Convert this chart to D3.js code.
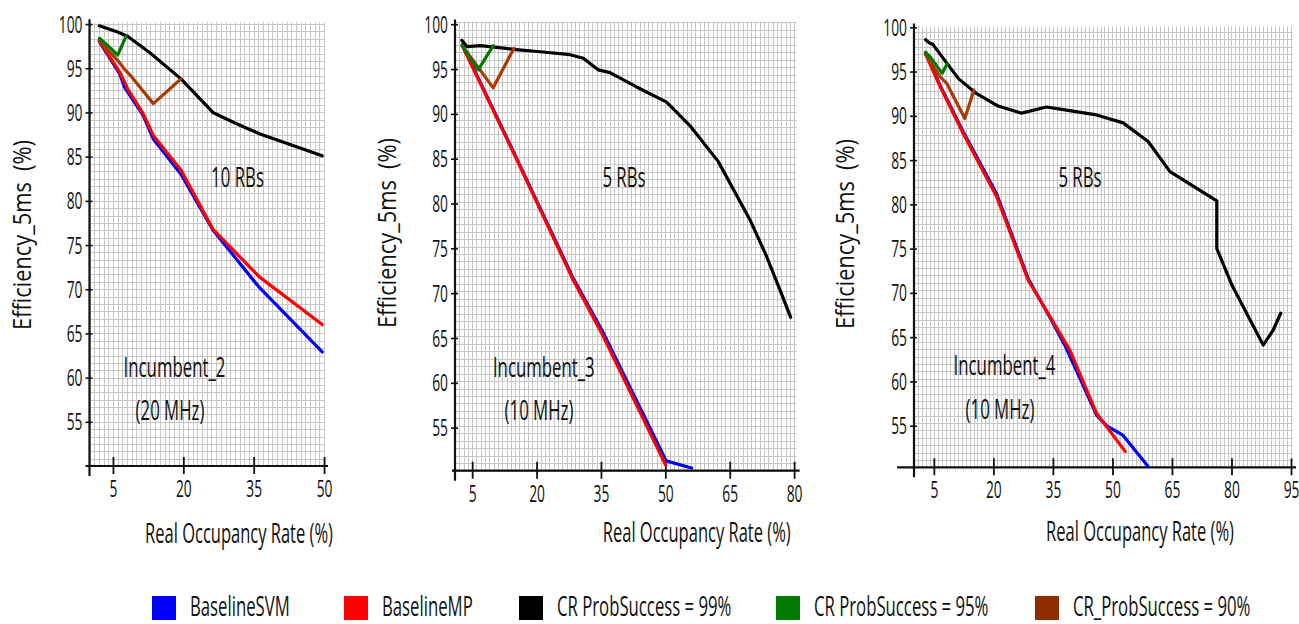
<!DOCTYPE html>
<html>
<head>
<meta charset="utf-8">
<script src="https://cdn.jsdelivr.net/npm/d3@7"></script>
<style>
  html, body { margin: 0; padding: 0; background: #fff; }
  svg { display: block; font-family: "Open Sans", sans-serif; }
</style>
</head>
<body>
<svg id="chart" width="1299" height="624"></svg>
<script>
// ---- Tick values ----
const xTicksInc2 = [5, 20, 35, 50];
const xTicksInc3 = [5, 20, 35, 50, 65, 80];
const xTicksInc4 = [5, 20, 35, 50, 65, 80, 95];
const yTicks = [55, 60, 65, 70, 75, 80, 85, 90, 95, 100];

// ---- Incumbent_2 (20 MHz), 10 RBs : [real occupancy %, efficiency %] ----
const inc2SVM  = [[2.1, 98.0], [6.4, 94.4], [7.5, 92.8], [11.4, 89.7], [13.6, 87.0], [19.5, 83.0], [26.3, 76.7], [36.2, 70.2], [49.6, 62.9]];
const inc2MP   = [[2.1, 98.1], [6.4, 94.6], [8.2, 92.6], [11.4, 89.9], [13.6, 87.4], [19.5, 83.5], [26.3, 76.8], [36.2, 71.4], [49.6, 66.0]];
const inc2CR99 = [[2.1, 99.8], [6.0, 99.1], [8.2, 98.6], [13.0, 96.7], [19.5, 93.8], [26.3, 90.0], [31.0, 88.8], [36.2, 87.6], [49.6, 85.1]];
const inc2CR95 = [[2.1, 98.4], [3.4, 97.8], [6.0, 96.5], [7.8, 98.6]];
const inc2CR90 = [[2.1, 98.1], [6.0, 95.9], [7.8, 94.7], [8.7, 94.2], [13.6, 91.0], [19.5, 93.8]];

// ---- Incumbent_3 (10 MHz), 5 RBs ----
const inc3SVM  = [[2.7, 97.7], [15.0, 85.4], [28.6, 71.6], [35.3, 65.8], [50.2, 51.3], [56.1, 50.5]];
const inc3MP   = [[2.7, 97.6], [15.0, 85.3], [28.5, 71.5], [35.1, 65.6], [50.1, 50.8]];
const inc3CR99 = [[2.6, 98.2], [3.8, 97.5], [7.0, 97.6], [14.6, 97.2], [21.5, 96.9], [27.8, 96.6], [30.9, 96.2], [34.4, 94.9], [37.1, 94.6], [43.3, 93.0], [50.3, 91.3], [55.7, 88.7], [62.3, 84.7], [69.7, 78.2], [73.5, 74.2], [77.0, 70.0], [79.2, 67.3]];
const inc3CR95 = [[2.7, 97.6], [6.4, 94.9], [9.9, 97.6]];
const inc3CR90 = [[2.7, 97.6], [9.9, 92.9], [14.7, 97.3]];

// ---- Incumbent_4 (10 MHz), 5 RBs ----
const inc4SVM  = [[2.9, 97.1], [6.6, 93.4], [12.4, 88.2], [20.8, 81.2], [28.8, 71.6], [34.4, 67.1], [38.0, 64.1], [46.0, 56.2], [48.5, 55.0], [52.7, 53.9], [59.0, 50.4]];
const inc4MP   = [[2.9, 97.0], [6.6, 93.3], [12.4, 88.0], [20.8, 80.9], [28.8, 71.4], [34.3, 67.3], [39.3, 63.5], [46.0, 56.4], [53.2, 52.1]];
const inc4CR99 = [[2.9, 98.6], [4.0, 98.2], [4.7, 98.1], [11.2, 94.2], [15.8, 92.5], [21.2, 91.1], [27.1, 90.3], [33.4, 91.0], [37.6, 90.7], [46.0, 90.1], [52.7, 89.2], [59.0, 87.1], [64.5, 83.7], [76.3, 80.4], [76.3, 75.0], [80.2, 70.8], [88.0, 64.1], [90.5, 65.8], [92.4, 67.7]];
const inc4CR95 = [[2.9, 97.2], [4.0, 96.7], [7.1, 94.8], [8.4, 95.9]];
const inc4CR90 = [[2.9, 96.9], [6.6, 94.4], [8.2, 93.7], [12.8, 89.7], [15.1, 92.9]];

// ---- Legend ----
const seriesNames  = ["BaselineSVM", "BaselineMP", "CR ProbSuccess = 99%", "CR ProbSuccess = 95%", "CR_ProbSuccess = 90%"];
const seriesColors = ["#0000ff", "#ff0000", "#000000", "#007a00", "#a83b05"];
const legendSwatch = ["#0000ff", "#ff0000", "#000000", "#007a00", "#8f2d00"];

// ---- Panel layout ----
const panels = [
  {
    x: { domain: [0, 50.2], range: [89.5, 325] },
    y: { domain: [50, 100.2], range: [466, 22.3] },
    ticks: xTicksInc2, axisLeftExt: 4,
    series: [inc2SVM, inc2MP, inc2CR99, inc2CR90, inc2CR95],
    rbs: { text: "10 RBs", x: 237.5, y: 186.5 },
    inc: { text: "Incumbent_2", x: 174.5, y: 376.5 },
    bw:  { text: "(20 MHz)", x: 170, y: 419.5 },
    ylab: { x: 31, y: 235 },
    xlab: { x: 239, y: 542.5 }
  },
  {
    x: { domain: [1, 80.6], range: [455, 796.7] },
    y: { domain: [50.2, 100.2], range: [470.7, 22.4] },
    ticks: xTicksInc3, axisLeftExt: 3,
    series: [inc3SVM, inc3MP, inc3CR99, inc3CR90, inc3CR95],
    rbs: { text: "5 RBs", x: 624, y: 186.5 },
    inc: { text: "Incumbent_3", x: 543.8, y: 376.5 },
    bw:  { text: "(10 MHz)", x: 539, y: 419.5 },
    ylab: { x: 395.5, y: 233 },
    xlab: { x: 696.7, y: 541.5 }
  },
  {
    x: { domain: [0, 95.5], range: [914, 1293] },
    y: { domain: [50.3, 100.1], range: [467.3, 26.4] },
    ticks: xTicksInc4, axisLeftExt: 17,
    series: [inc4SVM, inc4MP, inc4CR99, inc4CR90, inc4CR95],
    rbs: { text: "5 RBs", x: 1080, y: 186.5 },
    inc: { text: "Incumbent_4", x: 1004.5, y: 375 },
    bw:  { text: "(10 MHz)", x: 1000, y: 419 },
    ylab: { x: 854, y: 234 },
    xlab: { x: 1140, y: 541 }
  }
];
// colour index for each drawn series in the order above
const drawOrder = [0, 1, 2, 4, 3];

const svg = d3.select("#chart");
const SX = 0.6;   // horizontal condensation of the lettering

function condensedText(g, str, x, y, size, anchor, sx) {
  return g.append("text")
    .attr("transform", `translate(${x},${y}) scale(${sx},1)`)
    .attr("text-anchor", anchor)
    .attr("font-size", size)
    .attr("fill", "#111")
    .text(str);
}

panels.forEach(p => {
  const x = d3.scaleLinear().domain(p.x.domain).range(p.x.range);
  const y = d3.scaleLinear().domain(p.y.domain).range(p.y.range);
  const g = svg.append("g");
  const [x0, x1] = p.x.range;
  const [y0, y1] = p.y.range;   // y0 = bottom, y1 = top

  // fine background grid
  const grid = g.append("g").attr("stroke", "#c6c6c6").attr("stroke-width", 1);
  d3.range(Math.ceil(p.x.domain[0]), p.x.domain[1] + 0.001, 1).forEach(v => {
    const px = Math.round(x(v)) + 0.5;
    grid.append("line").attr("x1", px).attr("x2", px).attr("y1", y1).attr("y2", y0);
  });
  d3.range(p.y.domain[0], p.y.domain[1] + 0.001, 5 / 6).forEach(v => {
    const py = Math.round(y(v)) + 0.5;
    grid.append("line").attr("x1", x0).attr("x2", x1).attr("y1", py).attr("y2", py);
  });

  // axes lines
  g.append("line").attr("x1", x0).attr("x2", x0).attr("y1", y1 - 3).attr("y2", y0 + 10)
    .attr("stroke", "#111").attr("stroke-width", 2.2);
  g.append("line").attr("x1", x0 - p.axisLeftExt).attr("x2", x1 + 3).attr("y1", y0).attr("y2", y0)
    .attr("stroke", "#111").attr("stroke-width", 2.2);

  // y axis ticks + labels
  const ya = g.append("g").attr("transform", `translate(${x0},0)`)
    .call(d3.axisLeft(y).tickValues(yTicks).tickSize(4).tickSizeOuter(0));
  ya.select(".domain").remove();
  ya.selectAll(".tick line").attr("x1", 3).attr("stroke", "#111").attr("stroke-width", 1.6);
  ya.selectAll(".tick text")
    .attr("x", null).attr("dy", null)
    .attr("transform", `translate(-7,8) scale(${SX},1)`)
    .attr("text-anchor", "end")
    .attr("font-family", "Open Sans").attr("font-size", 23).attr("fill", "#111");

  // x axis ticks + labels
  const xa = g.append("g").attr("transform", `translate(0,${y0})`)
    .call(d3.axisBottom(x).tickValues(p.ticks).tickSize(8).tickSizeOuter(0));
  xa.select(".domain").remove();
  xa.selectAll(".tick line").attr("y1", -9).attr("stroke", "#111").attr("stroke-width", 1.8);
  xa.selectAll(".tick text")
    .attr("y", null).attr("dy", null)
    .attr("transform", `translate(0,31) scale(${SX},1)`)
    .attr("text-anchor", "middle")
    .attr("font-family", "Open Sans").attr("font-size", 23).attr("fill", "#111");

  // series lines
  const line = d3.line().x(d => x(d[0])).y(d => y(d[1]));
  p.series.forEach((data, i) => {
    g.append("path").datum(data)
      .attr("d", line)
      .attr("fill", "none")
      .attr("stroke", seriesColors[drawOrder[i]])
      .attr("stroke-width", 3.2)
      .attr("stroke-linejoin", "round")
      .attr("stroke-linecap", "round");
  });

  // annotations
  condensedText(g, p.rbs.text, p.rbs.x, p.rbs.y, 28, "middle", SX);
  condensedText(g, p.inc.text, p.inc.x, p.inc.y, 28, "middle", SX);
  condensedText(g, p.bw.text, p.bw.x, p.bw.y, 28, "middle", SX);

  // axis titles
  condensedText(g, "Real Occupancy Rate (%)", p.xlab.x, p.xlab.y, 28, "middle", 0.59);
  g.append("text")
    .attr("transform", `translate(${p.ylab.x},${p.ylab.y}) rotate(-90)`)
    .attr("text-anchor", "middle")
    .attr("font-size", 25)
    .attr("fill", "#111")
    .attr("textLength", 190)
    .attr("lengthAdjust", "spacingAndGlyphs")
    .text("Efficiency_5ms\u00a0 (%)");
});

// legend
const legendX = [152, 344, 519, 776, 1035];
const legend = svg.append("g");
seriesNames.forEach((name, i) => {
  legend.append("rect")
    .attr("x", legendX[i]).attr("y", 596)
    .attr("width", 24).attr("height", 24)
    .attr("fill", legendSwatch[i]);
  condensedText(legend, name, legendX[i] + 38, 615.5, 27, "start", 0.62);
});
</script>
</body>
</html>
